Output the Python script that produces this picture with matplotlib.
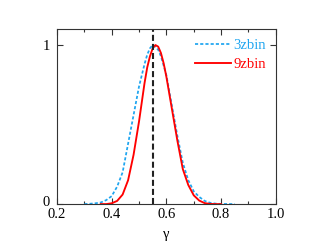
import numpy as np
import matplotlib
matplotlib.use('Agg')
import matplotlib.pyplot as plt
import matplotlib.transforms as mtransforms
from matplotlib.ticker import MultipleLocator

# values
gamma_3z = [0.30, 0.32, 0.34, 0.36, 0.38, 0.40, 0.42, 0.44, 0.46, 0.48, 0.50,
            0.52, 0.53, 0.54, 0.55, 0.56, 0.57, 0.58, 0.60, 0.62, 0.64, 0.66,
            0.68, 0.70, 0.72, 0.74, 0.76, 0.78, 0.80, 0.85]
like_3z = [0.0, 0.002, 0.005, 0.01, 0.025, 0.05, 0.11, 0.20, 0.38, 0.56, 0.74,
           0.88, 0.94, 0.98, 1.0, 0.99, 0.97, 0.93, 0.81, 0.62, 0.43, 0.26,
           0.15, 0.08, 0.045, 0.02, 0.008, 0.003, 0.001, 0.0]

gamma_9z = [0.36, 0.38, 0.40, 0.42, 0.44, 0.46, 0.48, 0.50, 0.52, 0.53, 0.54,
            0.55, 0.56, 0.57, 0.58, 0.59, 0.60, 0.62, 0.64, 0.66, 0.68, 0.70,
            0.72, 0.74, 0.76, 0.78, 0.80]
like_9z = [0.0, 0.0, 0.005, 0.02, 0.06, 0.15, 0.31, 0.52, 0.76, 0.86, 0.93,
           0.98, 1.0, 0.99, 0.95, 0.885, 0.80, 0.60, 0.40, 0.22, 0.12, 0.055,
           0.022, 0.006, 0.001, 0.0, 0.0]

gamma_fid = 0.55

plt.rcParams['font.family'] = ['Liberation Serif', 'DejaVu Serif']
plt.rcParams['font.size'] = 10.5

fig = plt.figure(figsize=(3.2, 2.45), dpi=100)
ax = fig.add_axes([0.178, 0.167, 0.684, 0.714])

ax.plot(gamma_3z, like_3z, color='#1ea5f0', lw=1.25, ls=(0, (1.8, 1.2)), label='3zbin')
ax.plot(gamma_9z, like_9z, color='red', lw=1.35, label='9zbin')
ax.axvline(gamma_fid, color='#222222', lw=1.5, ls=(0, (2.9, 1.45)))

ax.set_xlim(0.2, 1.0)
ax.set_ylim(0, 1.1)
ax.xaxis.set_major_locator(MultipleLocator(0.2))
ax.xaxis.set_minor_locator(MultipleLocator(0.1))
ax.set_yticks([0, 1])
ax.set_yticklabels(['0', '1'])
ax.set_xticks([0.2, 0.4, 0.6, 0.8, 1.0])
ax.set_xticklabels(['0.2', '0.4', '0.6', '0.8', '1.0'])
ax.tick_params(which='both', direction='in', top=True, right=True,
               width=0.8, color='#333333')
ax.tick_params(which='major', length=4.3)
ax.tick_params(which='minor', length=2.2)
ax.tick_params(axis='x', pad=3)
ax.tick_params(axis='y', pad=5)
ax.set_xlabel('γ', labelpad=4.5)
for s in ax.spines.values():
    s.set_linewidth(0.8)
    s.set_color('#333333')

# nudge the "0" label up a little so it clears "0.2"
lab0 = ax.get_yticklabels()[0]
lab0.set_transform(lab0.get_transform() +
                   mtransforms.ScaledTranslation(0, 2 / 72, fig.dpi_scale_trans))

ax.legend(loc='upper right', bbox_to_anchor=(0.982, 0.977), borderaxespad=0,
          frameon=False, labelcolor='linecolor', handlelength=2.47,
          handletextpad=0.15, labelspacing=0.38)

fig.savefig('out.png', dpi=100)
